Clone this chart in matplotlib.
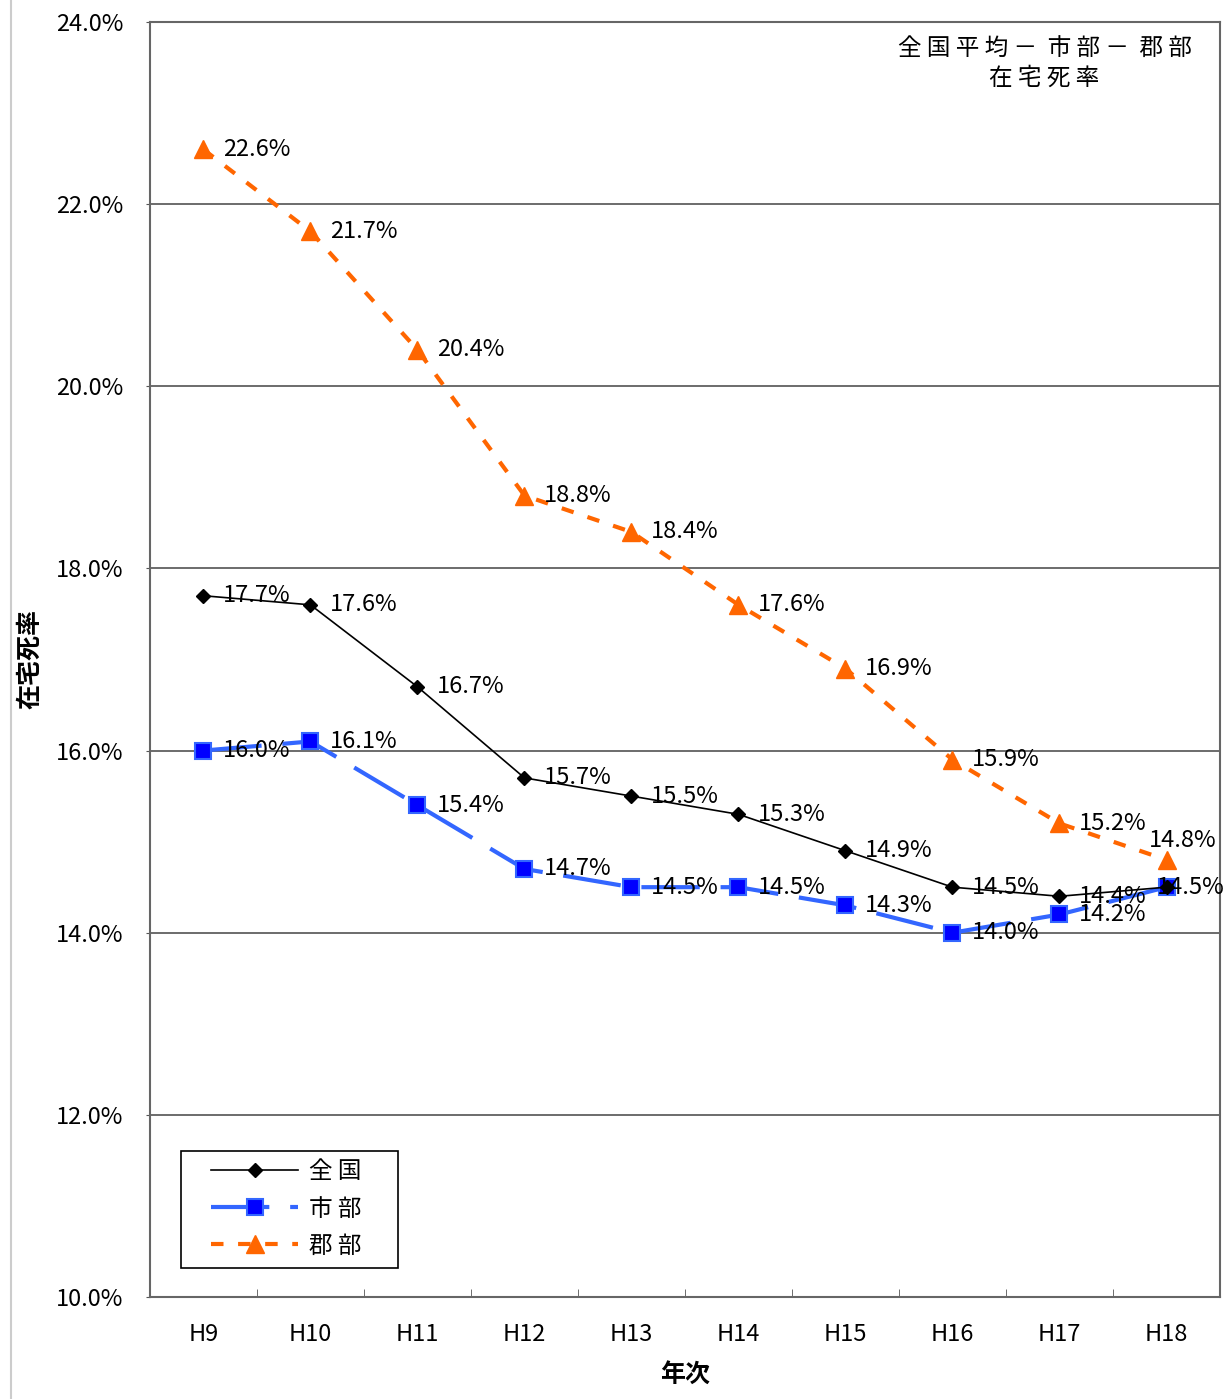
import matplotlib
matplotlib.use('Agg')
import matplotlib.pyplot as plt
from matplotlib.lines import Line2D
from matplotlib.patches import Rectangle

plt.rcParams['font.family'] = ['Noto Sans CJK JP', 'DejaVu Sans']

# data (percent)
years = ['H9', 'H10', 'H11', 'H12', 'H13', 'H14', 'H15', 'H16', 'H17', 'H18']
zenkoku = [17.7, 17.6, 16.7, 15.7, 15.5, 15.3, 14.9, 14.5, 14.4, 14.5]
shibu = [16.0, 16.1, 15.4, 14.7, 14.5, 14.5, 14.3, 14.0, 14.2, 14.5]
gunbu = [22.6, 21.7, 20.4, 18.8, 18.4, 17.6, 16.9, 15.9, 15.2, 14.8]
series_names = ['全 国', '市 部', '郡 部']
yticks = [10, 12, 14, 16, 18, 20, 22, 24]

fig = plt.figure(figsize=(12.27, 13.99), dpi=100)
ax = fig.add_axes([0.1222, 0.0729, 0.8721, 0.9114])

x = list(range(len(years)))

ax.plot(x, gunbu, color='#ff6600', lw=3, dashes=(3, 3.5), marker='^', ms=13,
        mfc='#ff6600', mec='#ff6600', label=series_names[2], zorder=3)
ax.plot(x, shibu, color='#3366ff', lw=3, dashes=(14, 5), marker='s', ms=11,
        mfc='#0000ff', mec='#3366ff', mew=1.5, label=series_names[1], zorder=4)
ax.plot(x, zenkoku, color='black', lw=1.2, marker='D', ms=7.5,
        mfc='black', mec='black', label=series_names[0], zorder=5)

# data labels; the last ones are pushed inside the plot area like Excel does
last_off = {'z': None, 's': (-7, 0), 'g': (-13, 14)}
for key, vals in (('z', zenkoku), ('s', shibu), ('g', gunbu)):
    for xi, v in zip(x, vals):
        off = (14, 0)
        if xi == len(x) - 1:
            off = last_off[key]
            if off is None:   # hidden under the 市部 label in the original
                continue
        ax.annotate(f'{v:.1f}%', (xi, v), xytext=off, textcoords='offset points',
                    va='center', ha='left', fontsize=17, color='black', zorder=6)

ax.set_xlim(-0.5, len(years) - 0.5)
ax.set_ylim(10, 24)
ax.set_yticks(yticks)
ax.set_yticklabels([f'{t:.1f}%' for t in yticks], fontsize=17)
ax.yaxis.grid(True, color='#444444', lw=1.1)
ax.set_axisbelow(True)
ax.tick_params(axis='y', length=3, pad=16, color='#555555')

ax.set_xticks(x)
ax.set_xticklabels(years, fontsize=17)
ax.set_xticks([i + 0.5 for i in x[:-1]], minor=True)
ax.tick_params(axis='x', which='major', length=0, pad=19)
ax.tick_params(axis='x', which='minor', direction='in', length=6, color='#555555')

for s in ax.spines.values():
    s.set_color('#666666')
    s.set_linewidth(1.5)

ax.set_xlabel('年次', fontsize=18, fontweight='bold', labelpad=12)
ax.set_ylabel('在宅死率', fontsize=18, fontweight='bold', labelpad=10)

ax.text(0.836, 0.988, '全 国 平 均 －  市 部 －  郡 部\n在 宅 死 率', transform=ax.transAxes,
        ha='center', va='top', fontsize=17, linespacing=1.35)

# legend with a hand drawn frame so the padding matches the original
ax.add_patch(Rectangle((0.029, 0.0227), 0.2028, 0.0918, transform=ax.transAxes,
                       fill=True, facecolor='white', edgecolor='black', lw=1.2, zorder=7))
h, l = ax.get_legend_handles_labels()
leg = ax.legend(h[::-1], l[::-1], loc='center left', bbox_to_anchor=(0.057, 0.069),
                borderaxespad=0, frameon=False, fontsize=17, handlelength=3.7,
                labelspacing=0.6, numpoints=1, borderpad=0, handletextpad=0.45)
leg.set_zorder(8)

fig.add_artist(Line2D([0.009, 0.009], [0, 1], color='#cccccc', lw=1.5))

fig.savefig('out.png', dpi=100)
